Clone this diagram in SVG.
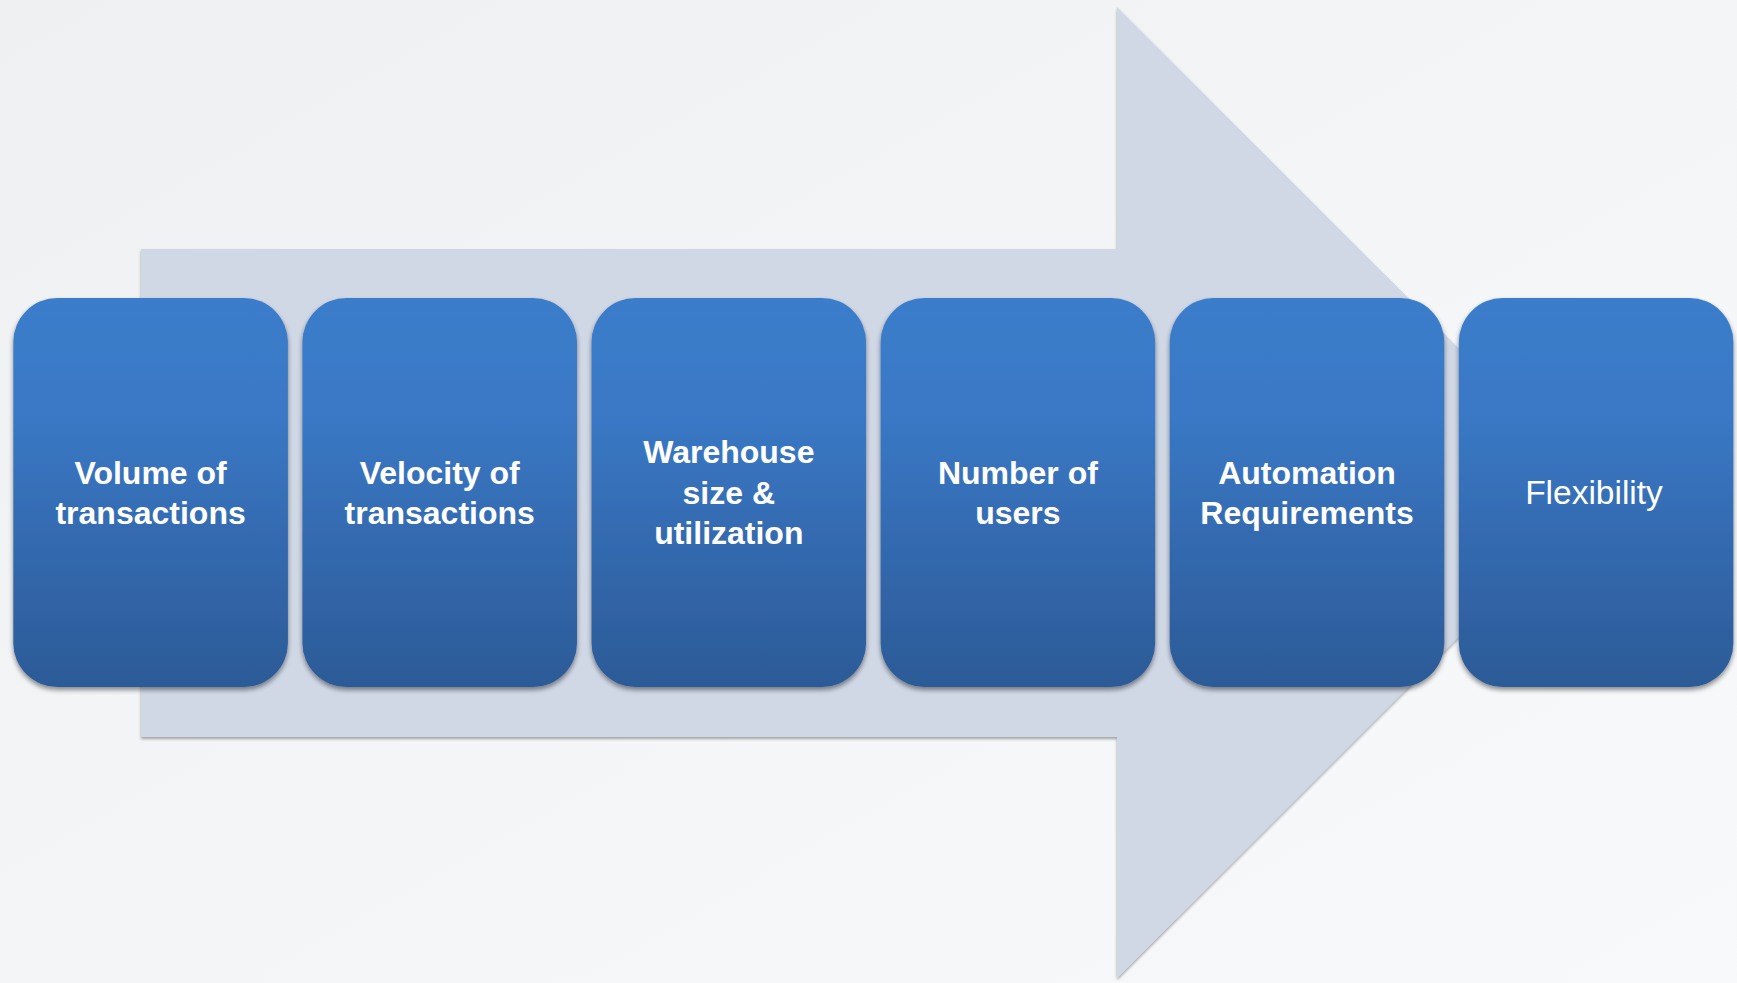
<svg xmlns="http://www.w3.org/2000/svg" width="1737" height="983" viewBox="0 0 1737 983">
  <defs>
    <linearGradient id="bg" x1="0" y1="0" x2="1" y2="1">
      <stop offset="0" stop-color="#EEF0F2"/>
      <stop offset="0.5" stop-color="#F4F5F7"/>
      <stop offset="1" stop-color="#F8F9FA"/>
    </linearGradient>
    <linearGradient id="boxfill" x1="0" y1="0" x2="0" y2="1">
      <stop offset="0" stop-color="#3B7DCB"/>
      <stop offset="0.3" stop-color="#3A78C5"/>
      <stop offset="1" stop-color="#2C5A97"/>
    </linearGradient>
    <filter id="shadow" x="-10%" y="-10%" width="120%" height="120%">
      <feGaussianBlur in="SourceAlpha" stdDeviation="2.5"/>
      <feOffset dx="0" dy="3" result="b"/>
      <feComponentTransfer><feFuncA type="linear" slope="0.45"/></feComponentTransfer>
      <feMerge><feMergeNode/><feMergeNode in="SourceGraphic"/></feMerge>
    </filter>
    <filter id="ashadow" x="-5%" y="-5%" width="110%" height="110%">
      <feGaussianBlur in="SourceAlpha" stdDeviation="1.5"/>
      <feOffset dx="0" dy="2" result="b"/>
      <feComponentTransfer><feFuncA type="linear" slope="0.35"/></feComponentTransfer>
      <feMerge><feMergeNode/><feMergeNode in="SourceGraphic"/></feMerge>
    </filter>
  </defs>
  <style>
    .box { fill: url(#boxfill); filter: url(#shadow); }
    .lbl { font-family: "Liberation Sans", Arial, sans-serif; font-size: 32px; font-weight: bold; fill: #FFFFFF; text-anchor: middle; }
    .lblr { font-family: "Liberation Sans", Arial, sans-serif; font-size: 33.5px; font-weight: normal; fill: #FFFFFF; text-anchor: middle; }
  </style>
  <rect x="0" y="0" width="1737" height="983" fill="url(#bg)"/>
  <g id="connectors">
    <path id="big-arrow" d="M141,249 L1117,249 L1117,7 L1603,492.5 L1117,978 L1117,737 L141,737 Z" fill="#D0D8E6" filter="url(#ashadow)"/>
  </g>
  <g id="node-volume">
    <rect class="box" x="13.3" y="298" width="274.6" height="389" rx="44" ry="44"/>
    <text class="lbl" x="150.6" y="483.5">Volume of</text>
    <text class="lbl" x="150.6" y="524">transactions</text>
  </g>
  <g id="node-velocity">
    <rect class="box" x="302.4" y="298" width="274.6" height="389" rx="44" ry="44"/>
    <text class="lbl" x="439.7" y="483.5">Velocity of</text>
    <text class="lbl" x="439.7" y="524">transactions</text>
  </g>
  <g id="node-warehouse">
    <rect class="box" x="591.5" y="298" width="274.6" height="389" rx="44" ry="44"/>
    <text class="lbl" x="728.8" y="463.3">Warehouse</text>
    <text class="lbl" x="728.8" y="503.6">size &amp;</text>
    <text class="lbl" x="728.8" y="544">utilization</text>
  </g>
  <g id="node-users">
    <rect class="box" x="880.6" y="298" width="274.6" height="389" rx="44" ry="44"/>
    <text class="lbl" x="1017.9" y="483.5">Number of</text>
    <text class="lbl" x="1017.9" y="524">users</text>
  </g>
  <g id="node-automation">
    <rect class="box" x="1169.7" y="298" width="274.6" height="389" rx="44" ry="44"/>
    <text class="lbl" x="1307" y="483.5">Automation</text>
    <text class="lbl" x="1307" y="524">Requirements</text>
  </g>
  <g id="node-flexibility">
    <rect class="box" x="1458.8" y="298" width="274.6" height="389" rx="44" ry="44"/>
    <text class="lblr" x="1594" y="503.5">Flexibility</text>
  </g>
</svg>
